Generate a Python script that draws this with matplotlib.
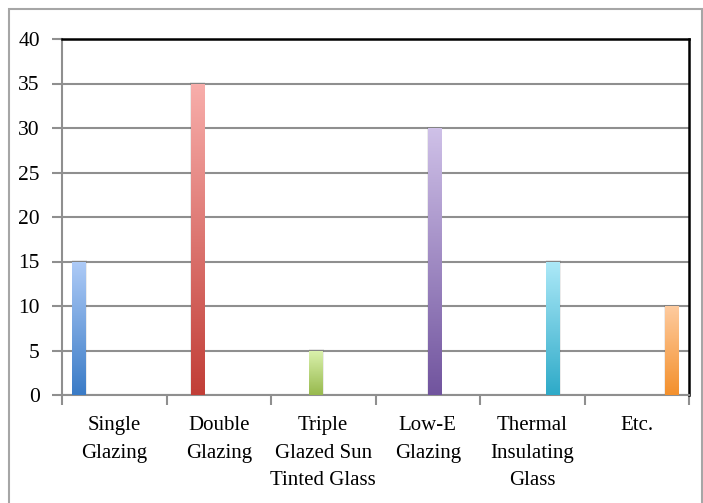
import matplotlib
matplotlib.use("Agg")
import matplotlib.pyplot as plt
import numpy as np
from matplotlib.colors import LinearSegmentedColormap
from matplotlib.patches import Rectangle

categories = ["Single\nGlazing", "Double\nGlazing", "Triple\nGlazed Sun\nTinted Glass",
              "Low-E\nGlazing", "Thermal\nInsulating\nGlass", "Etc."]
values = [15, 35, 5, 30, 15, 10]
# (top, bottom) colours of each bar's gradient
bar_colors = [("#aecbf7", "#3a7bc6"),
              ("#f8aeab", "#c13e37"),
              ("#dbf2ae", "#97b94d"),
              ("#cfc1e8", "#71549e"),
              ("#ade9f8", "#2eaac8"),
              ("#fecb9f", "#f3902c")]
y_ticks = list(range(0, 41, 5))

plt.rcParams['font.family'] = ['Liberation Serif', 'DejaVu Serif']

W, H = 703, 503
fig = plt.figure(figsize=(W / 100, H / 100), dpi=100)
fig.patch.set_facecolor("white")

# chart frame
fig.add_artist(Rectangle((9 / W, -0.05), (702 - 9) / W, 1.05 - 9 / H,
                         transform=fig.transFigure, fill=False,
                         edgecolor="#a6a6a6", linewidth=1.5))

ax = fig.add_axes([62 / W, (H - 395) / H, (689 - 62) / W, (395 - 39) / H])

# each category is its own series in a clustered layout
n = len(values)
gap = 0.1
bw = (1 - 2 * gap) / n
grad = np.linspace(1, 0, 256).reshape(-1, 1)
for i, (v, (top, bot)) in enumerate(zip(values, bar_colors)):
    x0 = i - 0.5 + gap + bw * i
    # soft shadow
    ax.add_patch(Rectangle((x0 - 0.006, 0), bw + 0.012, v + 0.15,
                           facecolor="#000000", alpha=0.08, edgecolor="none", zorder=2))
    rect = ax.bar(x0, v, width=bw, align="edge", facecolor="none",
                  edgecolor="none", zorder=3)[0]
    cmap = LinearSegmentedColormap.from_list("g%d" % i, [bot, top])
    im = ax.imshow(grad, cmap=cmap, extent=[x0, x0 + bw, 0, v],
                   aspect="auto", zorder=3, vmin=0, vmax=1)
    im.set_clip_path(rect)

ax.set_xlim(-0.5, n - 0.5)
ax.set_ylim(0, 40)
ax.set_yticks(y_ticks)
ax.yaxis.grid(True, color="#8f8f8f", linewidth=1.5)
ax.set_axisbelow(True)

ax.set_xticks(np.arange(-0.5, n, 1.0))
ax.set_xticklabels([])
ax.set_xticks(np.arange(n), minor=True)
ax.set_xticklabels(categories, minor=True, fontsize=15, linespacing=1.62, va="top")
ax.tick_params(axis="x", which="minor", length=0, pad=15)
ax.tick_params(axis="x", which="major", length=7, width=1.5, color="#8f8f8f")
ax.tick_params(axis="y", length=7, width=1.5, color="#8f8f8f", labelsize=15.5, pad=9)

for s in ["left", "bottom"]:
    ax.spines[s].set_color("#8f8f8f")
    ax.spines[s].set_linewidth(1.5)
for s in ["top", "right"]:
    ax.spines[s].set_color("black")
    ax.spines[s].set_linewidth(1.8)

fig.savefig("out.png", dpi=100)
